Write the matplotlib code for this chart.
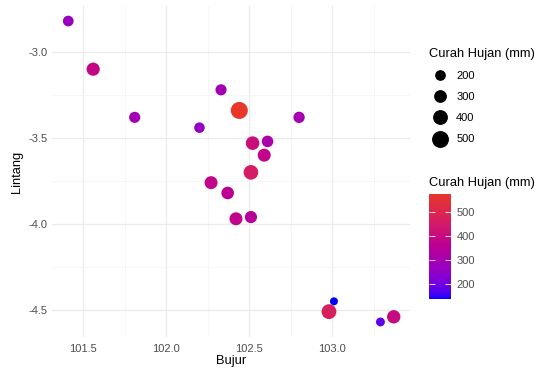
import numpy as np
import matplotlib
matplotlib.use("Agg")
import matplotlib.pyplot as plt
from matplotlib.colors import ListedColormap, Normalize
from matplotlib.lines import Line2D

# station data
bujur = [101.41, 101.56, 101.81, 102.20, 102.33, 102.44, 102.80, 102.52, 102.61, 102.59,
         102.51, 102.27, 102.37, 102.42, 102.51, 103.01, 102.98, 103.29, 103.37]
lintang = [-2.82, -3.10, -3.38, -3.44, -3.22, -3.34, -3.38, -3.53, -3.52, -3.60,
           -3.70, -3.76, -3.82, -3.97, -3.96, -4.45, -4.51, -4.57, -4.54]
curah_hujan = [270, 390, 290, 260, 290, 575, 300, 410, 310, 380,
               460, 380, 360, 380, 340, 137, 470, 180, 400]
legend_values = [200, 300, 400, 500]
bar_ticks = [200, 300, 400, 500]

plt.rcParams["font.family"] = ["Liberation Sans", "DejaVu Sans"]


# ---- ggplot-like gradient in Lab space
def srgb_to_lab(rgb):
    c = np.asarray(rgb, float)
    c = np.where(c <= 0.04045, c / 12.92, ((c + 0.055) / 1.055) ** 2.4)
    m = np.array([[0.4124, 0.3576, 0.1805],
                  [0.2126, 0.7152, 0.0722],
                  [0.0193, 0.1192, 0.9505]])
    xyz = m @ c / np.array([0.95047, 1.0, 1.08883])
    f = np.where(xyz > 0.008856, np.cbrt(xyz), 7.787 * xyz + 16 / 116)
    return np.array([116 * f[1] - 16, 500 * (f[0] - f[1]), 200 * (f[1] - f[2])])


def lab_to_srgb(lab):
    L, a, b = lab
    fy = (L + 16) / 116
    fx = fy + a / 500
    fz = fy - b / 200
    f = np.array([fx, fy, fz])
    xyz = np.where(f ** 3 > 0.008856, f ** 3, (f - 16 / 116) / 7.787)
    xyz = xyz * np.array([0.95047, 1.0, 1.08883])
    m = np.array([[3.2406, -1.5372, -0.4986],
                  [-0.9689, 1.8758, 0.0415],
                  [0.0557, -0.2040, 1.0570]])
    c = m @ xyz
    c = np.where(c <= 0.0031308, 12.92 * c, 1.055 * np.clip(c, 0, None) ** (1 / 2.4) - 0.055)
    return np.clip(c, 0, 1)


low = srgb_to_lab([0.0, 0.0, 1.0])
high = srgb_to_lab([0.91, 0.21, 0.16])
cmap = ListedColormap([lab_to_srgb(low + (high - low) * t) for t in np.linspace(0, 1, 256)])
norm = Normalize(min(curah_hujan), max(curah_hujan))

W, H = 538, 370
px2pt = 72 / 100


def diam_pt(v):
    vmin, vmax = min(curah_hujan), max(curah_hujan)
    return (8 + 9 * (np.asarray(v, float) - vmin) / (vmax - vmin)) * px2pt


fig = plt.figure(figsize=(W / 100, H / 100), dpi=100)
ax = fig.add_axes([52 / W, 33 / H, 358 / W, 331 / H])

ax.scatter(bujur, lintang, s=diam_pt(curah_hujan) ** 2, c=curah_hujan, cmap=cmap, norm=norm,
           linewidths=0, zorder=3)

ax.set_xlim(101.312, 103.468)
ax.set_ylim(-4.6575, -2.7325)
ax.set_xticks([101.5, 102.0, 102.5, 103.0])
ax.set_xticks([101.75, 102.25, 102.75, 103.25], minor=True)
ax.set_yticks([-3.0, -3.5, -4.0, -4.5])
ax.set_yticks([-3.25, -3.75, -4.25], minor=True)
ax.xaxis.set_major_formatter(lambda v, p: f"{v:.1f}")
ax.yaxis.set_major_formatter(lambda v, p: f"{v:.1f}")
ax.grid(True, which="major", color="#EBEBEB", linewidth=0.9)
ax.grid(True, which="minor", color="#F3F3F3", linewidth=0.5)
ax.tick_params(which="both", length=0, labelsize=8, labelcolor="#4D4D4D")
ax.tick_params(axis="x", pad=5)
ax.tick_params(axis="y", pad=3)
for sp in ax.spines.values():
    sp.set_visible(False)
ax.set_xlabel("Bujur", fontsize=9.3, labelpad=1)
ax.set_ylabel("Lintang", fontsize=9.3, labelpad=4)

# size legend
handles = [Line2D([], [], marker="o", linestyle="", color="black", markersize=diam_pt(v))
           for v in legend_values]
leg = ax.legend(handles, [str(v) for v in legend_values], title="Curah Hujan (mm)",
                loc="upper left", bbox_to_anchor=(429 / W, 1 - 48 / H),
                bbox_transform=fig.transFigure, frameon=False, fontsize=8,
                title_fontsize=9.3, labelspacing=1.0, handletextpad=0.55,
                borderpad=0, borderaxespad=0, handlelength=1.9)
leg._legend_box.align = "left"

# colour bar
fig.text(429 / W, 1 - 183 / H, "Curah Hujan (mm)", fontsize=9.3, va="center", ha="left")
cax = fig.add_axes([429 / W, 1 - 299 / H, 22 / W, 105 / H])
cb = fig.colorbar(plt.cm.ScalarMappable(norm=norm, cmap=cmap), cax=cax)
cb.outline.set_visible(False)
cb.set_ticks(bar_ticks)
cax.tick_params(direction="in", color="white", length=4, width=0.6, left=True, right=True,
                labelsize=8, labelcolor="#4D4D4D", pad=4)

fig.savefig("out.png", dpi=100)
